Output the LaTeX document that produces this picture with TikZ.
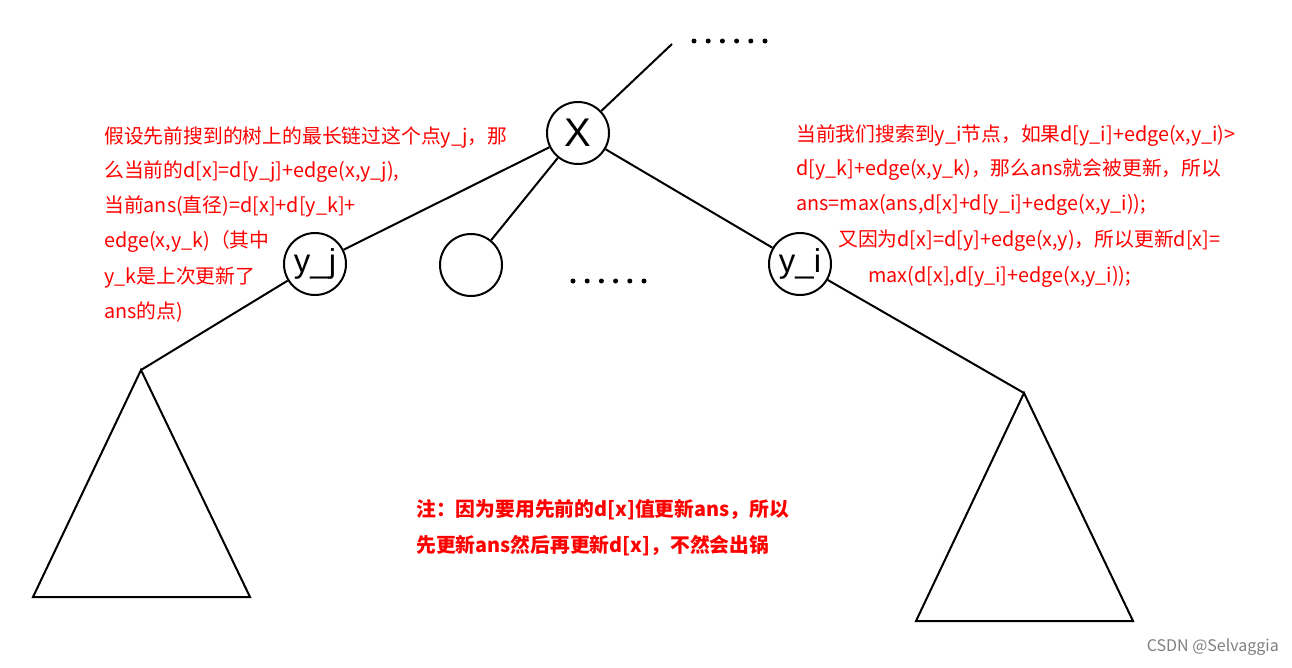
\documentclass[tikz,border=0pt]{standalone}
\usepackage{fontspec}
\setmainfont{Liberation Sans}
\newfontfamily\cjk{Noto Sans CJK SC}
\begin{document}
\begin{tikzpicture}[x=1pt,y=-1pt,
  circ/.style={draw,circle,line width=2pt,minimum size=62pt,inner sep=0pt},
  ln/.style={line width=2pt},
  dot/.style={circle,fill,inner sep=0pt,minimum size=5pt},
  rt/.style={anchor=west,text=red,font=\cjk\fontsize{19.8}{22}\selectfont,inner sep=0pt},
  bt/.style={anchor=west,text=red,font=\cjk\bfseries\fontsize{19.8}{22}\selectfont,inner sep=0pt}]
\useasboundingbox (0,0) rectangle (1292,667);
\node[circ,font=\fontsize{40}{40}\selectfont] (x) at (578,133) {X};
\node[circ,font=\fontsize{33}{33}\selectfont] (yj) at (315,264) {y\_j};
\node[circ] (m) at (471,265) {};
\node[circ,font=\fontsize{33}{33}\selectfont] (yi) at (800,264) {y\_i};
\coordinate (top) at (672,44);
\foreach \i in {0,...,5}{
  \node[dot] (t\i) at (694+14.2*\i,41) {};
  \node[dot] (b\i) at (573+14.2*\i,281) {};
}
\draw[ln] (x) -- (top);
\draw[ln] (x) -- (yj);
\draw[ln] (x) -- (m);
\draw[ln] (x) -- (yi);
\coordinate (a1) at (141,370); \coordinate (b1) at (33,597); \coordinate (c1) at (250,597);
\coordinate (a2) at (1024,393); \coordinate (b2) at (916,621); \coordinate (c2) at (1133,621);
\draw[ln] (yj) -- (a1);
\draw[ln] (yi) -- (a2);
\draw[ln] (a1) -- (b1) -- (c1) -- cycle;
\draw[ln] (a2) -- (b2) -- (c2) -- cycle;
\node[rt] (l1) at (104,138) {假设先前搜到的树上的最长链过这个点y\_j，那};
\node[rt] (l2) at (104,172) {么当前的d[x]=d[y\_j]+edge(x,y\_j),};
\node[rt] (l3) at (104,206) {当前ans(直径)=d[x]+d[y\_k]+};
\node[rt] (l4) at (104,241) {edge(x,y\_k)（其中};
\node[rt] (l5) at (104,277) {y\_k是上次更新了};
\node[rt] (l6) at (104,312) {ans的点)};
\node[rt] (r1) at (796,136) {当前我们搜索到y\_i节点，如果d[y\_i]+edge(x,y\_i)>};
\node[rt] (r2) at (796,170) {d[y\_k]+edge(x,y\_k)，那么ans就会被更新，所以};
\node[rt] (r3) at (796,205) {ans=max(ans,d[x]+d[y\_i]+edge(x,y\_i));};
\node[rt] (r4) at (838,241) {又因为d[x]=d[y]+edge(x,y)，所以更新d[x]=};
\node[rt] (r5) at (868,277) {max(d[x],d[y\_i]+edge(x,y\_i));};
\node[bt] (n1) at (416,510) {注：因为要用先前的d[x]值更新ans，所以};
\node[bt] (n2) at (416,546) {先更新ans然后再更新d[x]，不然会出锅};
\node[anchor=east,text=gray,font=\cjk\fontsize{16}{18}\selectfont,inner sep=0pt] (w) at (1279,647) {CSDN @Selvaggia};
\end{tikzpicture}
\end{document}
